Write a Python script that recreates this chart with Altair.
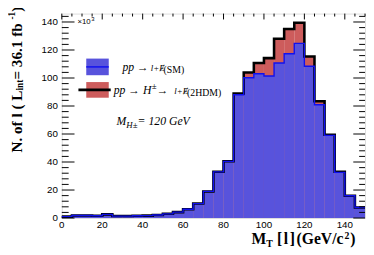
import altair as alt
import pandas as pd

# ---- data ----
BIN_WIDTH = 5
BIN_START = list(range(0, 150, BIN_WIDTH))
SM_K = [1.0, 1.8, 1.8, 1.6, 2.6, 1.4, 1.4, 1.6, 1.7, 2.2,
        3.0, 4.2, 6.3, 10.3, 19.0, 33.0, 40.5, 88.0, 100.2, 103.0,
        101.4, 110.7, 117.3, 124.7, 108.4, 80.9, 59.0, 32.6, 15.9, 7.5]
HDM_K = [1.0, 1.8, 1.8, 1.6, 2.6, 1.4, 1.4, 1.6, 1.7, 2.2,
         3.0, 4.2, 6.3, 10.3, 19.0, 33.0, 40.5, 89.0, 104.0, 110.7,
         114.2, 128.0, 135.0, 139.4, 115.4, 83.4, 59.5, 33.0, 15.9, 7.5]
X_TICKS = [0, 20, 40, 60, 80, 100, 120, 140]
Y_TICKS = [0, 20, 40, 60, 80, 100, 120, 140]
Y_MINOR = [v for v in range(0, 145, 4) if v % 20 != 0]
X_MINOR = [v for v in range(0, 151, 5) if v % 20 != 0]
X_DOMAIN = [0, 150]
Y_DOMAIN = [0, 146]

BLUE_FILL = "#5853dc"
RED_FILL = "#cd5c5c"
BLUE_LINE = "#1010f0"

W, H = 310, 209

df = pd.DataFrame({"lo": BIN_START,
                   "hi": [b + BIN_WIDTH for b in BIN_START],
                   "sm": SM_K, "tot": HDM_K})
step = pd.DataFrame({"x": BIN_START + [BIN_START[-1] + BIN_WIDTH],
                     "sm": SM_K + [SM_K[-1]],
                     "tot": HDM_K + [HDM_K[-1]]})

xs = alt.Scale(domain=X_DOMAIN, nice=False, zero=False)
ys = alt.Scale(domain=Y_DOMAIN, nice=False, zero=False)

red = alt.Chart(df).mark_rect(color=RED_FILL).encode(
    x=alt.X("lo:Q", scale=xs, axis=None), x2="hi:Q",
    y=alt.Y("tot:Q", scale=ys, axis=None), y2=alt.datum(0))
blue = alt.Chart(df).mark_rect(color=BLUE_FILL).encode(
    x=alt.X("lo:Q", scale=xs, axis=None), x2="hi:Q",
    y=alt.Y("sm:Q", scale=ys, axis=None), y2=alt.datum(0))
line_tot = alt.Chart(step).mark_line(interpolate="step-after", color="black",
                                     strokeWidth=2.6).encode(
    x=alt.X("x:Q", scale=xs, axis=None), y=alt.Y("tot:Q", scale=ys, axis=None))
line_sm = alt.Chart(step).mark_line(interpolate="step-after", color=BLUE_LINE,
                                    strokeWidth=1.4).encode(
    x=alt.X("x:Q", scale=xs, axis=None), y=alt.Y("sm:Q", scale=ys, axis=None))

ymaj = pd.DataFrame({"v": Y_TICKS})
ymin = pd.DataFrame({"v": Y_MINOR})
xmaj = pd.DataFrame({"v": X_TICKS})
xmin = pd.DataFrame({"v": X_MINOR})


def yt(d, x0, x1):
    return alt.Chart(d).mark_rule(color="black", strokeWidth=1).encode(
        y=alt.Y("v:Q", scale=ys, axis=None), x=alt.value(x0), x2=alt.value(x1))


def xt(d, l):
    return alt.Chart(d).mark_rule(color="black", strokeWidth=1).encode(
        x=alt.X("v:Q", scale=xs, axis=None), y=alt.value(0), y2=alt.value(l))


ticks = [yt(ymaj, 0, 13), yt(ymin, 0, 7), yt(ymaj, W - 12, W), yt(ymin, W - 6, W),
         xt(xmaj, 6), xt(xmin, 3)]

ylabels = alt.Chart(ymaj).mark_text(font="Liberation Sans", fontSize=10, color="black",
                                    align="right", baseline="middle").encode(
    y=alt.Y("v:Q", scale=ys, axis=None), x=alt.value(-4), text="v:Q")
xlabels = alt.Chart(xmaj).mark_text(font="Liberation Sans", fontSize=10, color="black",
                                    align="center", baseline="top").encode(
    x=alt.X("v:Q", scale=xs, axis=None), y=alt.value(H + 2), text="v:Q")

one = alt.Data(values=[{}])


def txt(s, x, y, size, font="Liberation Serif", weight="normal", style="normal",
        angle=0, align="left", baseline="alphabetic"):
    return alt.Chart(one).mark_text(font=font, fontSize=size, fontWeight=weight,
                                    fontStyle=style, angle=angle, align=align,
                                    baseline=baseline, color="black").encode(
        x=alt.value(x), y=alt.value(y), text=alt.value(s))


def box(x0, x1, y0, y1, color):
    return alt.Chart(one).mark_rect(color=color).encode(
        x=alt.value(x0), x2=alt.value(x1), y=alt.value(y0), y2=alt.value(y1))


def hline(x0, x1, y, color, w):
    return alt.Chart(one).mark_rule(color=color, strokeWidth=w).encode(
        x=alt.value(x0), x2=alt.value(x1), y=alt.value(y))


legend = [
    box(25, 48, 46, 63, BLUE_FILL), hline(25, 48, 54.5, BLUE_LINE, 1.5),
    box(25, 48, 70, 86, RED_FILL), hline(17, 50, 78, "black", 3),
    txt("pp → ", 62, 59, 12, style="italic"),
    txt("l+Ɇ", 91, 59, 9, style="italic"),
    txt("(SM)", 104, 61, 10),
    txt("pp → H", 53, 82, 12, style="italic"),
    txt("±", 92, 77, 9, style="italic"),
    txt(" → ", 97, 82, 12, style="italic"),
    txt("l+Ɇ", 115, 82, 9, style="italic"),
    txt("(2HDM)", 128, 84, 10),
    txt("M", 56, 114, 12, style="italic"),
    txt("H±", 66, 117, 9, style="italic"),
    txt(" = 120 GeV", 77.5, 114, 12, style="italic"),
]

B = "bold"
k = 15.5 / 14.5
y0 = 142
tx = -46
titles = [
    # y-axis title (rotated, reads upward)
    txt("N. of l ( L", tx, y0, 15.5, weight=B, angle=270, baseline="middle"),
    txt("int", tx + 3.5, y0 - 59.2 * k, 9.5, weight=B, angle=270, baseline="middle"),
    txt(" = 36.1 fb", tx, y0 - 69.7 * k, 15.5, weight=B, angle=270, baseline="middle"),
    txt("-1", tx - 5, y0 - 127.1 * k, 9.5, weight=B, angle=270, baseline="middle"),
    txt(" )", tx, y0 - 134.6 * k, 15.5, weight=B, angle=270, baseline="middle"),
    # x-axis title
    txt("M", 194, 236, 16, weight=B),
    txt("T", 209, 239, 10, weight=B),
    txt("[", 220, 236, 16, weight=B),
    txt("l", 227, 236, 16, weight=B),
    txt("]", 233, 236, 16, weight=B),
    txt("(GeV/c", 240, 236, 16, weight=B),
    txt("2", 289, 230, 10, weight=B),
    txt(")", 295, 236, 16, weight=B),
    # exponent of the y axis
    txt("×10", 16, 11, 8, font="Liberation Sans"),
    txt("3", 30, 8, 6, font="Liberation Sans"),
]

chart = alt.layer(red, blue, line_tot, line_sm, *ticks, ylabels, xlabels,
                  *legend, *titles).properties(
    width=W, height=H,
    autosize=alt.AutoSizeParams(type="none"),
    padding={"left": 55, "top": 3, "right": 1, "bottom": 31},
).configure_view(stroke="black", strokeWidth=1).configure(background="white")

chart.save("out.html", embed_options={"renderer": "svg", "actions": False})
